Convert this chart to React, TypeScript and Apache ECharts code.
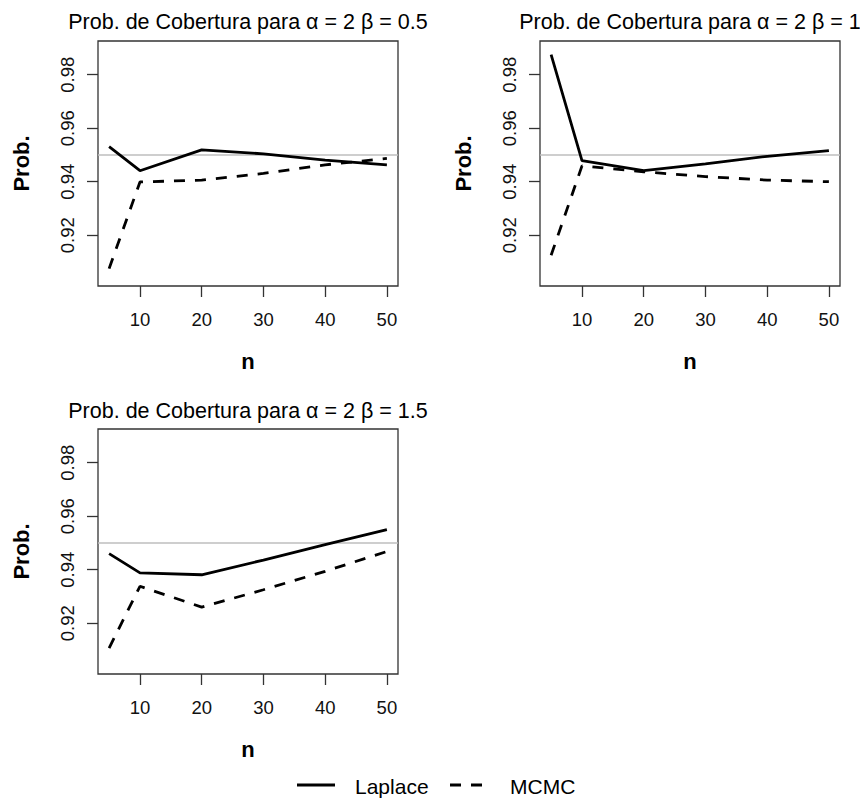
import React, { useEffect, useRef } from "react";
import * as echarts from "echarts";

const nValues = [5, 10, 20, 30, 40, 50];
const laplace1 = [0.9531, 0.9441, 0.9519, 0.9504, 0.9481, 0.9463];
const mcmc1 = [0.9075, 0.9399, 0.9406, 0.9431, 0.9463, 0.9487];
const laplace2 = [0.9875, 0.9479, 0.9441, 0.9467, 0.9495, 0.9516];
const mcmc2 = [0.9125, 0.9459, 0.9437, 0.9419, 0.9406, 0.94];
const laplace3 = [0.946, 0.9388, 0.9381, 0.9436, 0.9494, 0.955];
const mcmc3 = [0.9107, 0.9338, 0.926, 0.9325, 0.9394, 0.9468];

const xTicks = [10, 20, 30, 40, 50];
const yTicks = [0.92, 0.94, 0.96, 0.98];
const refLevel = 0.95;
const titles = [
  "Prob. de Cobertura para α = 2 β = 0.5",
  "Prob. de Cobertura para α = 2 β = 1",
  "Prob. de Cobertura para α = 2 β = 1.5",
];
const seriesNames = ["Laplace", "MCMC"];

const FONT = "'Liberation Sans', Arial, sans-serif";

export default function App() {
  const ref = useRef<HTMLDivElement>(null);
  useEffect(() => {
    document.body.style.margin = "0";
    const chart = echarts.init(ref.current!, null, { renderer: "svg" });
    const panels = [
      { left: 98, top: 41, lap: laplace1, mc: mcmc1 },
      { left: 540, top: 41, lap: laplace2, mc: mcmc2 },
      { left: 98, top: 429, lap: laplace3, mc: mcmc3 },
    ];
    const W = 300;
    const H = 245;
    const grid = panels.map((p) => ({
      left: p.left,
      top: p.top,
      width: W,
      height: H,
      show: true,
      borderColor: "#333",
      borderWidth: 1.3,
      backgroundColor: "transparent",
      containLabel: false,
    }));
    const xAxis = panels.map((_, i) => ({
      type: "value",
      gridIndex: i,
      min: 3.2,
      max: 51.8,
      name: "n",
      nameLocation: "middle",
      nameGap: 64,
      nameTextStyle: { fontFamily: FONT, fontSize: 22, fontWeight: "bold", color: "#000" },
      axisLine: { show: false },
      splitLine: { show: false },
      axisTick: {
        show: true,
        inside: false,
        length: 11,
        customValues: xTicks,
        lineStyle: { color: "#333", width: 1.3 },
      },
      axisLabel: {
        customValues: xTicks,
        margin: 24,
        fontFamily: FONT,
        fontSize: 18.5,
        color: "#111",
        formatter: (v: number) => String(v),
      },
    }));
    const yAxis = panels.map((_, i) => ({
      type: "value",
      gridIndex: i,
      min: 0.901,
      max: 0.9926,
      name: "Prob.",
      nameLocation: "middle",
      nameRotate: 90,
      nameGap: 66,
      nameTextStyle: { fontFamily: FONT, fontSize: 22, fontWeight: "bold", color: "#000" },
      axisLine: { show: false },
      splitLine: { show: false },
      axisTick: {
        show: true,
        inside: false,
        length: 11,
        customValues: yTicks,
        lineStyle: { color: "#333", width: 1.3 },
      },
      axisLabel: {
        customValues: yTicks,
        rotate: 90,
        margin: 21,
        fontFamily: FONT,
        fontSize: 18.5,
        color: "#111",
        formatter: (v: number) => v.toFixed(2),
      },
    }));
    const series: any[] = [];
    panels.forEach((p, i) => {
      series.push({
        name: seriesNames[0],
        type: "line",
        xAxisIndex: i,
        yAxisIndex: i,
        data: nValues.map((n, k) => [n, p.lap[k]]),
        symbol: "none",
        z: 3,
        lineStyle: { color: "#000", width: 2.8, type: "solid" },
        markLine: {
          silent: true,
          symbol: "none",
          z: 1,
          label: { show: false },
          lineStyle: { color: "#bebebe", width: 1.5, type: "solid" },
          data: [{ yAxis: refLevel }],
        },
      });
      series.push({
        name: seriesNames[1],
        type: "line",
        xAxisIndex: i,
        yAxisIndex: i,
        data: nValues.map((n, k) => [n, p.mc[k]]),
        symbol: "none",
        z: 3,
        lineStyle: { color: "#000", width: 2.8, type: [11, 10] },
      });
    });
    const graphic: any[] = panels.map((p, i) => ({
      type: "text",
      x: p.left + W / 2,
      y: i === 2 ? 411 : 22,
      style: {
        text: titles[i],
        fontFamily: FONT,
        fontSize: 21.5,
        fill: "#000",
        align: "center",
        verticalAlign: "middle",
      },
    }));
    graphic.push(
      { type: "line", shape: { x1: 297, y1: 785, x2: 335, y2: 785 }, style: { stroke: "#000", lineWidth: 2.8 } },
      {
        type: "text",
        x: 355,
        y: 786,
        style: { text: seriesNames[0], fontFamily: FONT, fontSize: 21, fill: "#000", verticalAlign: "middle" },
      },
      {
        type: "line",
        shape: { x1: 450, y1: 785, x2: 488, y2: 785 },
        style: { stroke: "#000", lineWidth: 2.8, lineDash: [11, 10] },
      },
      {
        type: "text",
        x: 510,
        y: 786,
        style: { text: seriesNames[1], fontFamily: FONT, fontSize: 21, fill: "#000", verticalAlign: "middle" },
      }
    );
    chart.setOption({
      animation: false,
      backgroundColor: "#fff",
      grid,
      xAxis,
      yAxis,
      series,
      graphic,
    });
    return () => chart.dispose();
  }, []);
  return <div ref={ref} style={{ width: 860, height: 801 }} />;
}
